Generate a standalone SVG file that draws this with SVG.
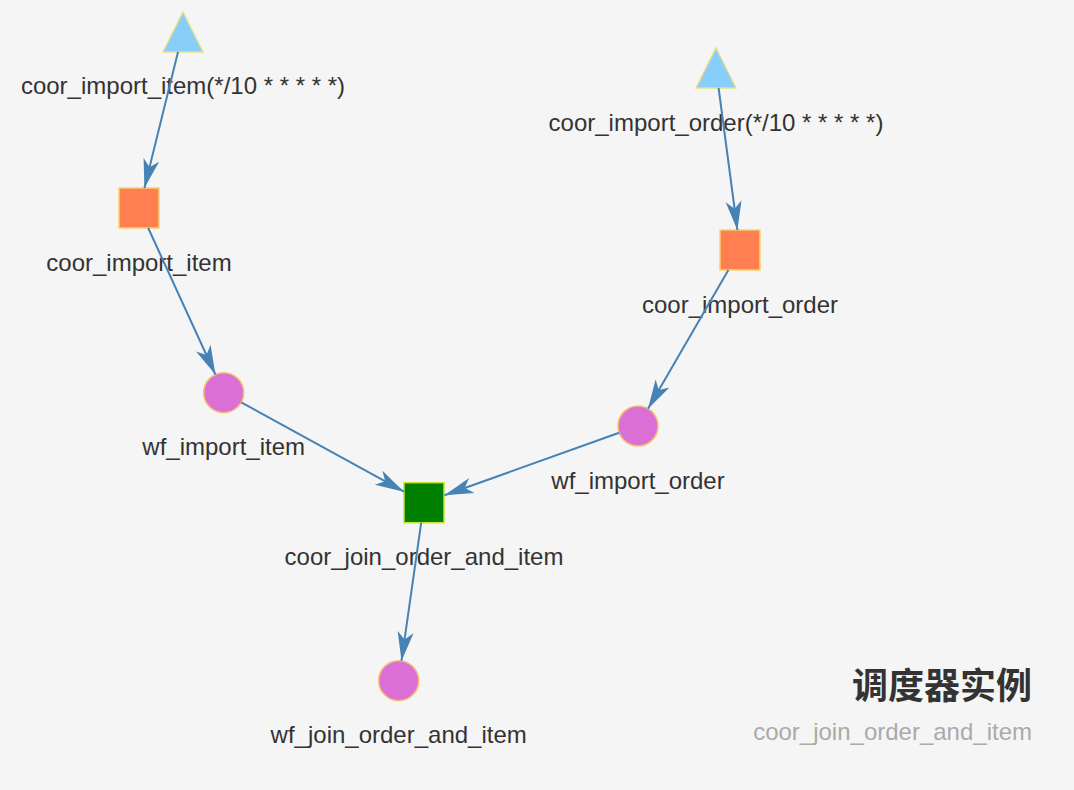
<svg xmlns="http://www.w3.org/2000/svg" width="1074" height="790" viewBox="0 0 1074 790">
  <style>
    .lbl { font-family: "Liberation Sans", Arial, sans-serif; font-size: 24px; fill: #333; text-anchor: middle; }
    .tri { fill: #87cefa; stroke: #e8df8a; stroke-width: 1.5; }
    .sq { fill: #ff7f50; stroke: #f7d070; stroke-width: 1.5; }
    .ci { fill: #da70d6; stroke: #f5c070; stroke-width: 1.5; }
    .gr { fill: #008000; stroke: #c8e030; stroke-width: 1.5; }
    .edge { stroke: #4682b4; stroke-width: 2; fill: none; marker-end: url(#arrow); }
    .title { font-family: "Liberation Sans", Arial, "Noto Sans CJK SC", sans-serif; font-size: 36px; font-weight: bold; fill: #333; text-anchor: end; }
    .sub { font-family: "Liberation Sans", Arial, sans-serif; font-size: 24px; fill: #aaa; text-anchor: end; }
  </style>
  <defs>
    <marker id="arrow" markerUnits="userSpaceOnUse" viewBox="-31 -10 33 20" refX="0" refY="0" markerWidth="33" markerHeight="20" orient="auto">
      <path d="M0,0 L-29,-8 L-21.5,0 L-29,8 Z" fill="#4682b4"/>
    </marker>
  </defs>
  <rect width="1074" height="790" fill="#f5f5f5"/>

  <g id="node-coor_import_item_trigger">
    <polygon class="tri" points="183,12 203,52 163,52"/>
    <text class="lbl" x="183" y="94">coor_import_item(*/10 * * * * *)</text>
  </g>
  <g id="node-coor_import_item">
    <rect class="sq" x="119" y="188" width="40" height="40"/>
    <text class="lbl" x="139" y="271">coor_import_item</text>
  </g>
  <g id="node-wf_import_item">
    <circle class="ci" cx="223.7" cy="392.7" r="20"/>
    <text class="lbl" x="223.7" y="455">wf_import_item</text>
  </g>
  <g id="node-coor_import_order_trigger">
    <polygon class="tri" points="716,48 736,88 696,88"/>
    <text class="lbl" x="716" y="131">coor_import_order(*/10 * * * * *)</text>
  </g>
  <g id="node-coor_import_order">
    <rect class="sq" x="720" y="230" width="40" height="40"/>
    <text class="lbl" x="740" y="313">coor_import_order</text>
  </g>
  <g id="node-wf_import_order">
    <circle class="ci" cx="638" cy="426" r="20"/>
    <text class="lbl" x="638" y="489">wf_import_order</text>
  </g>
  <g id="node-coor_join_order_and_item">
    <rect class="gr" x="404" y="482.7" width="40" height="40"/>
    <text class="lbl" x="424" y="565">coor_join_order_and_item</text>
  </g>
  <g id="node-wf_join_order_and_item">
    <circle class="ci" cx="398.7" cy="680.7" r="20"/>
    <text class="lbl" x="398.7" y="743">wf_join_order_and_item</text>
  </g>

  <g id="connectors">
    <line class="edge" x1="178" y1="52" x2="144.4" y2="188"/>
    <line class="edge" x1="148.2" y1="228" x2="215.4" y2="374.5"/>
    <line class="edge" x1="241.2" y1="402.3" x2="404" y2="491.7"/>
    <line class="edge" x1="718.6" y1="88" x2="737.4" y2="230"/>
    <line class="edge" x1="728.4" y1="270" x2="648" y2="408.7"/>
    <line class="edge" x1="619.2" y1="432.7" x2="444.5" y2="495.3"/>
    <line class="edge" x1="421.2" y1="522.7" x2="401.5" y2="660.9"/>
  </g>

  <g id="title">
    <text class="title" x="1032" y="699">调度器实例</text>
    <text class="sub" x="1032" y="740">coor_join_order_and_item</text>
  </g>
</svg>
